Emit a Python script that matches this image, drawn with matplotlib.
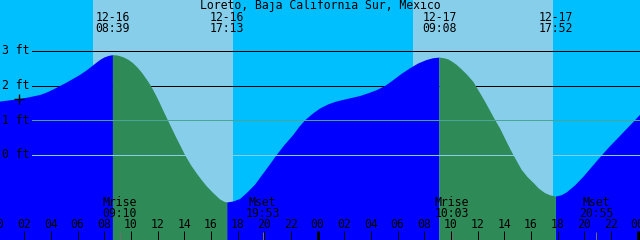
import matplotlib
matplotlib.use('Agg')
import matplotlib.pyplot as plt
import numpy as np

title = "Loreto, Baja California Sur, Mexico"

# Tide curve readings: hours since 12-16 00:00, height (ft)
hours = [0.18, 1.18, 1.68, 2.18, 2.68, 3.18, 3.68, 4.18, 4.68, 5.18, 5.68, 6.18,
         6.68, 7.18, 7.68, 8.0, 8.35, 8.65,
         9.0, 9.43, 9.8, 10.155, 10.5, 10.85, 11.18, 11.505, 11.8, 12.1, 12.4,
         12.76, 13.1, 13.4, 13.68, 14.055, 14.5, 14.93, 15.3, 15.7, 16.18, 16.68,
         17.0, 17.2167,
         17.7, 18.18, 18.68, 19.3, 19.93, 20.43, 20.93, 21.5, 22.18, 22.6, 23.06,
         23.6, 24.18, 24.8, 25.4, 25.93, 26.5, 27.18, 27.8, 28.43, 29.06, 29.68,
         30.3, 30.93, 31.55, 32.18, 32.66, 33.133,
         33.5, 33.79, 34.1, 34.43, 34.8, 35.2, 35.68, 36.1, 36.5, 36.9, 37.31,
         37.68, 38.2, 38.68, 39.31, 39.75, 40.18, 40.6, 41.06, 41.43, 41.867,
         42.3, 42.68, 43.3, 43.93, 44.55, 45.18, 45.8, 46.43, 47.05, 47.68, 48.18]
feet = [1.54, 1.59, 1.62, 1.65, 1.69, 1.73, 1.80, 1.89, 1.99, 2.09, 2.20, 2.31,
        2.44, 2.59, 2.74, 2.81, 2.86, 2.88,
        2.87, 2.82, 2.75, 2.65, 2.52, 2.36, 2.18, 1.99, 1.78, 1.55, 1.30,
        1.01, 0.74, 0.50, 0.29, 0.0, -0.29, -0.53, -0.72, -0.91, -1.10, -1.28,
        -1.35, -1.37,
        -1.34, -1.27, -1.10, -0.86, -0.53, -0.27, 0.0, 0.28, 0.58, 0.80, 1.0,
        1.18, 1.34, 1.46, 1.54, 1.59, 1.64, 1.70, 1.78, 1.87, 1.99, 2.16,
        2.34, 2.50, 2.64, 2.74, 2.79, 2.81,
        2.79, 2.76, 2.69, 2.60, 2.47, 2.32, 2.11, 1.84, 1.58, 1.30, 1.01,
        0.77, 0.36, 0.0, -0.43, -0.64, -0.80, -0.97, -1.10, -1.16, -1.20,
        -1.16, -1.08, -0.88, -0.63, -0.35, -0.07, 0.20, 0.45, 0.70, 0.95, 1.16]

# Tide extremes
ext_hours = [8.65, 17.2167, 33.133, 41.867]
ext_dates = ['12-16', '12-16', '12-17', '12-17']
ext_times = ['08:39', '17:13', '09:08', '17:52']

# Daylight
sunrise_hours = [7.155, 31.155]
sunset_hours = [17.655, 41.655]

# Moon events
moon_names = ['Mrise', 'Mset', 'Mrise', 'Mset']
moon_times = ['09:10', '19:53', '10:03', '20:55']
moon_hours = [9.1667, 19.883, 34.05, 44.9167]

level_labels = ['3 ft', '2 ft', '1 ft', '0 ft']
level_values = [3, 2, 1, 0]
hour_ticks = list(range(0, 49, 2))
hour_labels = ['%02d' % (h % 24) for h in hour_ticks]

marker_hour = 1.64
marker_feet = 1.615

XMIN, XMAX = 0.18, 48.18
YMIN, YMAX = -2.452, 4.471

FONT = 'DejaVu Sans Mono'
FS = 8.3

fig = plt.figure(figsize=(6.4, 2.4), dpi=100)
ax = fig.add_axes([0, 0, 1, 1])
ax.set_xlim(XMIN, XMAX)
ax.set_ylim(YMIN, YMAX)
ax.set_facecolor('#00BFFF')
ax.axis('off')
fig.patch.set_facecolor('#00BFFF')
ax.add_patch(plt.Rectangle((0, 0), 1, 1, transform=ax.transAxes, color='#00BFFF', zorder=0))

for sr, ss in zip(sunrise_hours, sunset_hours):
    ax.axvspan(sr, ss, color='#87CEEB', lw=0, zorder=1)

# upper level lines behind the fill
lw1 = 72 / 100
for lab, v in zip(level_labels, level_values):
    if v >= 2:
        ax.axhline(v, xmin=32 / 640, xmax=1, color='black', lw=lw1, zorder=2)

h = np.array(hours)
f = np.array(feet)
green = ((h >= ext_hours[0]) & (h <= ext_hours[1])) | ((h >= ext_hours[2]) & (h <= ext_hours[3]))
blue = (h <= ext_hours[0]) | ((h >= ext_hours[1]) & (h <= ext_hours[2])) | (h >= ext_hours[3])
ax.fill_between(h, YMIN, f, where=blue, color='#0000FF', lw=0, zorder=3)
ax.fill_between(h, YMIN, f, where=green, color='#2E8B57', lw=0, zorder=3)

# lower level lines over the fill
ax.axhline(1, xmin=32 / 640, xmax=1, color='#4AA596', lw=lw1, zorder=4)
ax.axhline(0, xmin=32 / 640, xmax=1, color='#87CEEB', lw=lw1, zorder=4)

for lab, v in zip(level_labels, level_values):
    ax.text(2 / 640, v, lab, transform=ax.get_yaxis_transform(), ha='left', va='center',
            family=FONT, fontsize=FS, color='black', zorder=6)

ax.plot([marker_hour], [marker_feet], marker='+', color='black', ms=7, mew=1, zorder=6)

xt = ax.get_xaxis_transform()
# title and extreme labels
ax.text(0.5, 1 - 5.5 / 240, title, transform=ax.transAxes, ha='center', va='center',
        family=FONT, fontsize=FS, zorder=6)
for eh, d, t in zip(ext_hours, ext_dates, ext_times):
    ax.text(eh, 1 - 17.5 / 240, d, transform=xt, ha='center', va='center', family=FONT, fontsize=FS, zorder=6)
    ax.text(eh, 1 - 29 / 240, t, transform=xt, ha='center', va='center', family=FONT, fontsize=FS, zorder=6)

# moon events
for name, t, mh in zip(moon_names, moon_times, moon_hours):
    ax.text(mh, 1 - 202 / 240, name, transform=xt, ha='center', va='center', family=FONT, fontsize=FS, zorder=6)
    ax.text(mh, 1 - 213.5 / 240, t, transform=xt, ha='center', va='center', family=FONT, fontsize=FS, zorder=6)
    ax.vlines(mh, 0, 8 / 240, transform=xt, color='#6E6E6E', lw=lw1, zorder=5)

# hour ticks
for ht, hl in zip(hour_ticks, hour_labels):
    ax.text(ht, 1 - 225 / 240, hl, transform=xt, ha='center', va='center', family=FONT,
            fontsize=FS, zorder=6, clip_on=False)
    w = 3 * lw1 if ht % 24 == 0 else lw1
    ax.vlines(ht, 0, 9 / 240, transform=xt, color='black', lw=w, zorder=6)

fig.savefig('out.png', dpi=100, facecolor='#00BFFF')
